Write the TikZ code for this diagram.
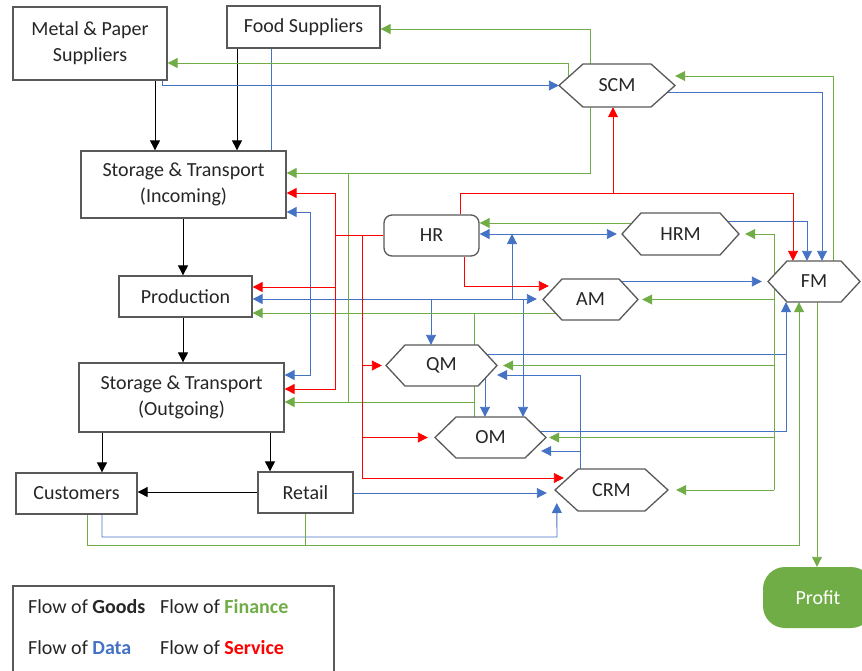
\documentclass[tikz,border=0pt]{standalone}
\usepackage{fontspec}
\setmainfont{Carlito}
\usetikzlibrary{arrows.meta,calc}
\definecolor{fgreen}{HTML}{70AD47}
\definecolor{fblue}{HTML}{4472C4}
\definecolor{fred}{HTML}{FF0000}
\definecolor{bordergray}{HTML}{595959}
\definecolor{txt}{HTML}{262626}
\pgfdeclarelayer{bg}
\pgfsetlayers{bg,main}
\newcommand\hexnode[7]{%
  \path[hexbord] ({#2-#4/2},{#3}) -- ({#2-#4/2+#6},{#3-#5/2}) -- ({#2+#4/2-#6},{#3-#5/2}) -- ({#2+#4/2},{#3}) -- ({#2+#4/2-#6},{#3+#5/2}) -- ({#2-#4/2+#6},{#3+#5/2}) -- cycle;
  \node[hexlabel, minimum width=#4, minimum height=#5] (#1) at (#2,#3) {#7};
}
\begin{document}
\begin{tikzpicture}[x=1pt,y=-1pt,
  font=\fontsize{20}{26}\selectfont,
  box/.style={draw=bordergray, line width=1.3pt, fill=white, text=txt, align=center, inner sep=0pt},
  hexbord/.style={draw=bordergray, line width=1.3pt, fill=white},
  hexlabel/.style={text=txt, inner sep=0pt},
  lnk/.style={line width=0.9pt},
  arr/.style={-{Triangle[length=10pt,width=10pt]}},
  barr/.style={{Triangle[length=10pt,width=10pt]}-{Triangle[length=10pt,width=10pt]}},
  goodsL/.style={line width=0.9pt,draw=black},
  dataL/.style={lnk,draw=fblue},
  finL/.style={lnk,draw=fgreen},
  servL/.style={lnk,draw=fred},
  legtext/.style={anchor=west, inner sep=0pt, text=txt}
]
\useasboundingbox (0,0) rectangle (862,670);
\clip (0,0) rectangle (862,670);

% rectangular nodes
\node[box, minimum width=154, minimum height=73] (MP) at (90,43.5) {Metal \& Paper\\Suppliers};
\node[box, minimum width=153, minimum height=42] (Food) at (303.5,27) {Food Suppliers};
\node[box, minimum width=205, minimum height=67] (STin) at (183.5,184.5) {Storage \& Transport\\(Incoming)};
\node[box, minimum width=133, minimum height=41] (Prod) at (185.5,296.5) {Production};
\node[box, minimum width=205, minimum height=69] (STout) at (181.5,397.5) {Storage \& Transport\\(Outgoing)};
\node[box, minimum width=121, minimum height=41] (Cust) at (76.5,493.5) {Customers};
\node[box, minimum width=95, minimum height=41] (Retail) at (305.5,492.5) {Retail};
\node[box, rounded corners=8pt, minimum width=95, minimum height=41] (HR) at (431.5,235.5) {HR};

% hexagon nodes
\hexnode{SCM}{617}{85.5}{116}{43}{24}{SCM}
\hexnode{HRM}{680.5}{234}{117}{42}{19}{HRM}
\hexnode{FM}{814}{281.5}{92}{41}{19}{FM}
\hexnode{AM}{590.5}{299.5}{95}{41}{19}{AM}
\hexnode{QM}{441.5}{365.5}{111}{41}{19}{QM}
\hexnode{OM}{490.5}{437.5}{111}{41}{21}{OM}
\hexnode{CRM}{611.5}{490}{113}{42}{23}{CRM}

% profit
\node[fill=fgreen, draw=none, rounded corners=22pt, minimum width=110, minimum height=61, text=white, inner sep=0pt] (Profit) at (818,597.5) {Profit};

% legend
\draw[draw=bordergray, line width=1.3pt] (13,672) -- (13,586) -- (334,586) -- (334,672);
\node[legtext] (lgGoods) at (28,607) {Flow of \textbf{Goods}};
\node[legtext] (lgFin) at (160,607) {Flow of \textcolor{fgreen}{\textbf{Finance}}};
\node[legtext] (lgData) at (28,648) {Flow of \textcolor{fblue}{\textbf{Data}}};
\node[legtext] (lgServ) at (160,648) {Flow of \textcolor{fred}{\textbf{Service}}};

\begin{pgfonlayer}{bg}
% goods
\draw[goodsL,arr] (155,0 |- MP.south) -- (155,0 |- STin.north);
\draw[goodsL,arr] (237,0 |- Food.south) -- (237,0 |- STin.north);
\draw[goodsL,arr] (183,0 |- STin.south) -- (183,0 |- Prod.north);
\draw[goodsL,arr] (183,0 |- Prod.south) -- (183,0 |- STout.north);
\draw[goodsL,arr] (102,0 |- STout.south) -- (102,0 |- Cust.north);
\draw[goodsL,arr] (270,0 |- STout.south) -- (270,0 |- Retail.north);
\draw[goodsL,arr] (Retail.west |- 0,492) -- (Cust.east |- 0,492);

% data
\draw[dataL,arr] (162,0 |- MP.south) -- (162,0 |- SCM.west) -- (SCM.west);
\draw[dataL] (271,0 |- Food.south) -- (271,0 |- STin.north);
\draw[dataL,arr] (SCM.center |- 0,92) -- (822,92) -- (822,0 |- FM.north);
\draw[dataL,arr] (HRM.center |- 0,221) -- (807,221) -- (807,0 |- FM.north);
\draw[dataL,barr,shorten >=5pt] (HR.east |- HRM.west) -- (HRM.west);
\draw[dataL,barr,shorten >=6pt] (Prod.east |- 0,299) -- (AM.west |- 0,299);
\draw[dataL,arr] (431,299) -- (431,0 |- QM.north);
\draw[dataL,arr] (512,299) -- (512,0 |- HRM.west);
\draw[dataL,arr] (523,299) -- (523,0 |- OM.north);
\draw[dataL,barr] (STin.east |- 0,212) -- (310,212) -- (310,375) -- (STout.east |- 0,375);
\draw[dataL,arr,shorten >=6pt] (AM.center |- FM.west) -- (FM.west);
\draw[dataL] (QM.center |- 0,354) -- (786,354);
\draw[dataL,arr] (OM.center |- 0,431) -- (786,431) -- (786,0 |- FM.south);
\draw[dataL,arr] (QM.center -| 485,0) -- (485,0 |- OM.north);
\draw[dataL,arr] (580,0 |- CRM.center) -- (580,375) -- (QM.east |- 0,375);
\draw[dataL,arr] (580,451) -- ($(OM.east |- 0,451)+(-5,0)$);
\draw[dataL,arr,shorten >=8pt] (Retail.east |- 0,493) -- (CRM.west |- 0,493);
\draw[dataL,arr] (102,0 |- Cust.south) -- (102,537) -- (557,537) -- ($(CRM.west)+(2,13)$);

% finance
\draw[finL,arr] (590,0 |- SCM.north) -- (590,29) -- (Food.east |- 0,29);
\draw[finL,arr] (568,0 |- SCM.center) -- (568,63) -- (MP.east |- 0,63);
\draw[finL,arr] (590,0 |- SCM.south) -- (590,173) -- (STin.east |- 0,173);
\draw[finL] (348,173) -- (348,402);
\draw[finL,arr] (474,402) -- (STout.east |- 0,402);
\draw[finL,arr] (AM.center |- 0,313) -- (Prod.east |- 0,313);
\draw[finL] (474,313) -- (474,0 |- OM.north);
\draw[finL,arr] (833,0 |- FM.north) -- (833,76) -- (SCM.east |- 0,76);
\draw[finL] (774,0 |- HRM.east) -- (774,0 |- CRM.east);
\draw[finL,arr,shorten >=6pt] (774,0 |- HRM.east) -- (HRM.east);
\draw[finL,arr,shorten >=4pt] (774,0 |- AM.east) -- (AM.east);
\draw[finL,arr,shorten >=6pt] (774,0 |- QM.east) -- (QM.east);
\draw[finL,arr,shorten >=3pt] (774,0 |- OM.east) -- (OM.east);
\draw[finL,arr,shorten >=8pt] (774,0 |- CRM.east) -- (CRM.east);
\draw[finL,arr] (HRM.center |- 0,223) -- (HR.east |- 0,223);
\draw[finL,arr] (87,0 |- Cust.south) -- (87,545) -- (799,545) -- (799,0 |- FM.south);
\draw[finL] (305,0 |- Retail.south) -- (305,545);
\draw[finL,arr] (817,0 |- FM.south) -- (817,0 |- Profit.north);

% service
\draw[servL,arr] (460,0 |- HR.north) -- (460,193) -- (793,193) -- (793,0 |- FM.north);
\draw[servL,arr] (613,193) -- (613,0 |- SCM.south);
\draw[servL] (HR.west) -- (335,0 |- HR.west);
\draw[servL,arr] (335,0 |- HR.west) -- (335,193) -- (STin.east |- 0,193);
\draw[servL,arr] (335,0 |- HR.west) -- (335,389) -- (STout.east |- 0,389);
\draw[servL,arr] (335,287) -- (Prod.east |- 0,287);
\draw[servL,arr] (362,0 |- HR.west) -- (362,478) -- ($(CRM.west)+(9,-12)$);
\draw[servL,arr,shorten >=4pt] (362,0 |- QM.west) -- (QM.west);
\draw[servL,arr,shorten >=7pt] (362,0 |- OM.west) -- (OM.west);
\draw[servL,arr] (464,0 |- HR.south) -- (464,286) -- ($(AM.west)+(6,-13.5)$);
\end{pgfonlayer}
\end{tikzpicture}
\end{document}
